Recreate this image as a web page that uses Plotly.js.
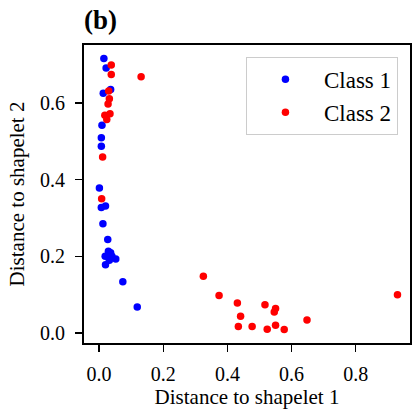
<!DOCTYPE html>
<html>
<head>
<meta charset="utf-8">
<script src="https://cdn.plot.ly/plotly-3.0.1.min.js"></script>
<style>html,body{margin:0;padding:0;background:#fff;}#chart{width:412px;height:409px;}</style>
</head>
<body>
<div id="chart"></div>
<script>
// Class 1 (blue)
const class1X = [0.015, 0.022, 0.036, 0.013, 0.009, 0.007, 0.007, 0.001, 0.007, 0.020, 0.012, 0.027, 0.029, 0.019, 0.040, 0.052, 0.020, 0.032, 0.036, 0.074, 0.119];
const class1Y = [0.716, 0.691, 0.635, 0.625, 0.542, 0.509, 0.487, 0.378, 0.327, 0.331, 0.285, 0.244, 0.213, 0.200, 0.200, 0.193, 0.178, 0.190, 0.209, 0.134, 0.068];
// Class 2 (red)
const class2X = [0.131, 0.038, 0.038, 0.030, 0.032, 0.028, 0.034, 0.018, 0.024, 0.011, 0.008, 0.325, 0.374, 0.431, 0.441, 0.434, 0.477, 0.517, 0.550, 0.546, 0.524, 0.550, 0.577, 0.648, 0.930];
const class2Y = [0.668, 0.699, 0.674, 0.631, 0.611, 0.597, 0.572, 0.568, 0.557, 0.459, 0.350, 0.148, 0.098, 0.078, 0.044, 0.017, 0.017, 0.074, 0.064, 0.055, 0.010, 0.020, 0.009, 0.034, 0.100];
const seriesNames = ["Class 1", "Class 2"];
const tickVals = [0.0, 0.2, 0.4, 0.6, 0.8];
const tickText = ["0.0", "0.2", "0.4", "0.6", "0.8"];

const serif = '"Liberation Serif", "Times New Roman", serif';

const traces = [
  {x: class1X, y: class1Y, name: seriesNames[0], type: 'scatter', mode: 'markers',
   marker: {color: '#0000ff', size: 7.5}},
  {x: class2X, y: class2Y, name: seriesNames[1], type: 'scatter', mode: 'markers',
   marker: {color: '#ff0000', size: 7.5}}
];

const axisCommon = {
  showline: true, mirror: true, linecolor: '#000', linewidth: 2,
  ticks: 'outside', ticklen: 7, tickwidth: 1.3, tickcolor: '#000',
  showgrid: false, zeroline: false,
  tickfont: {family: serif, size: 20, color: '#000'},
  tickvals: tickVals, ticktext: tickText
};

const layout = {
  width: 412, height: 409,
  margin: {l: 84, r: 2, t: 45, b: 66},
  paper_bgcolor: '#fff', plot_bgcolor: '#fff',
  font: {family: serif, color: '#000'},
  title: {text: '<b>(b)</b>', font: {family: serif, size: 27, color: '#000'},
          x: 0.204, xanchor: 'left', xref: 'container', y: 0.951, yanchor: 'middle', yref: 'container'},
  xaxis: Object.assign({}, axisCommon, {
    range: [-0.047, 0.969],
    ticklabelstandoff: 5,
    title: {text: 'Distance to shapelet 1', font: {family: serif, size: 21, color: '#000'}}
  }),
  yaxis: Object.assign({}, axisCommon, {
    range: [-0.026, 0.751],
    ticklabelstandoff: 6,
    title: {text: 'Distance to shapelet 2', font: {family: serif, size: 21, color: '#000'}, standoff: 10}
  }),
  legend: {
    x: 0.963, xanchor: 'right', y: 0.96, yanchor: 'top',
    bgcolor: '#fff', bordercolor: '#cccccc', borderwidth: 1,
    font: {family: serif, size: 23, color: '#000'},
    itemwidth: 67
  },
  showlegend: true
};

Plotly.newPlot('chart', traces, layout, {staticPlot: true, displayModeBar: false});
</script>
</body>
</html>
